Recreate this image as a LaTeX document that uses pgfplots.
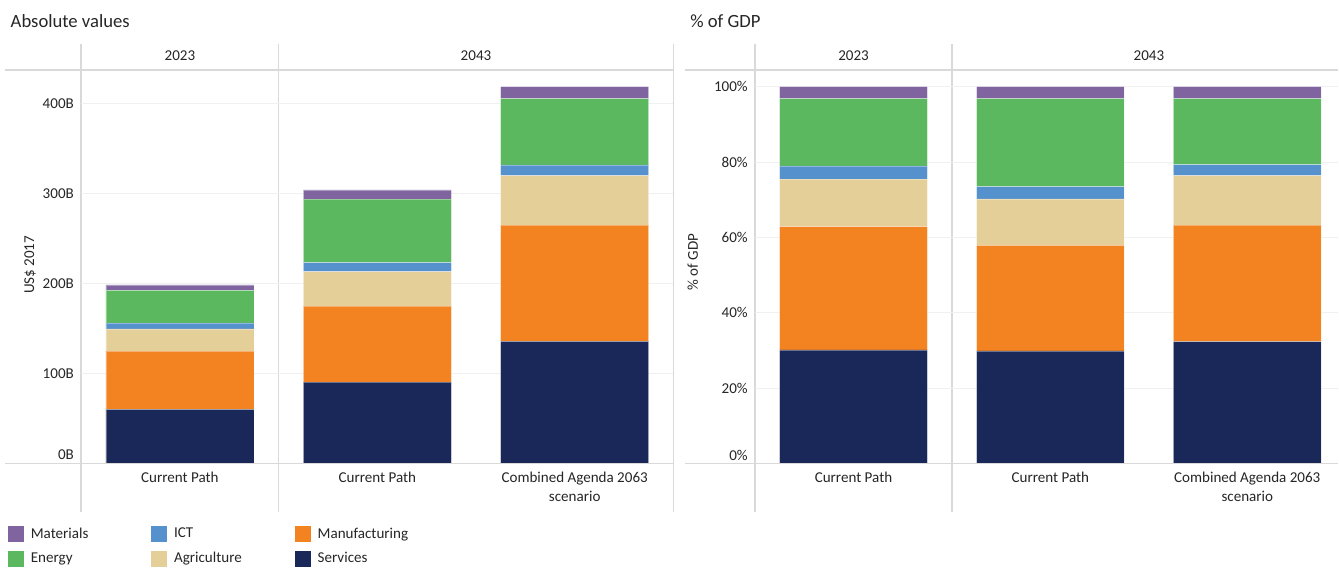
\documentclass[border=0pt]{standalone}
\usepackage{pgfplots}
\pgfplotsset{compat=1.18}
\usepackage{pgfplotstable}
\usepackage{fontspec}
\setmainfont{Carlito}
\definecolor{cMat}{HTML}{7F64A0}
\definecolor{cEne}{HTML}{5CB85F}
\definecolor{cICT}{HTML}{5591CC}
\definecolor{cAgr}{HTML}{E5CF99}
\definecolor{cMan}{HTML}{F38321}
\definecolor{cSer}{HTML}{1A2859}
\definecolor{txt}{HTML}{262626}
\definecolor{sep}{HTML}{D9D9D9}
\definecolor{gridc}{HTML}{F0F0F0}

\pgfplotstableread{
x Services Manufacturing Agriculture ICT Energy Materials
0 60.3 64.9 24.8 6.7 35.9 6.3
1 90.8 84.4 38.5 10.0 70.4 10.3
2 135.9 129.3 55.1 11.9 73.7 13.3
}\absdata

\pgfplotstableread{
x Services Manufacturing Agriculture ICT Energy Materials
0 30.2 32.7 12.6 3.5 17.8 3.2
1 29.9 28.0 12.3 3.3 23.3 3.2
2 32.4 30.9 13.1 2.9 17.5 3.2
}\pctdata

\newcommand\fnt{\fontsize{11.3}{14.25}\selectfont}

\pgfplotsset{
  panel/.style={
    scale only axis,
    anchor=south west,
    height=297pt,
    ymin=0,
    ybar stacked,
    bar width=0.75,
    axis line style={draw=none},
    tick style={draw=none},
    ymajorgrids,
    grid style={gridc, line width=0.8pt},
    font=\fnt\color{txt},
    ticklabel style={font=\fnt\color{txt}},
    yticklabel style={anchor=east, xshift=-2pt},
    xtick={0,1,2},
    xticklabel style={align=center, anchor=north, yshift=-2.5pt},
    extra y tick style={grid=none, yticklabel style={yshift=6.5pt}},
    ylabel style={rotate=0, anchor=center, font=\fnt\color{txt}},
    every axis plot/.append style={draw=white, draw opacity=0.35, line width=0.4pt},
  },
  legsq/.style={legend image code/.code={\fill[##1, draw=none] (0pt,-6pt) rectangle (12pt,6pt);}},
}

\begin{document}
\begin{tikzpicture}
\path (0,0) rectangle (1004.25pt,424.5pt);

% titles
\node[anchor=west, font=\fontsize{14}{16}\selectfont, text=txt] at (4.5pt,408.75pt) {Absolute values};
\node[anchor=west, font=\fontsize{14}{16}\selectfont, text=txt] at (514.5pt,408.75pt) {\% of GDP};

% separators left panel
\draw[sep, line width=1.1pt] (60.94pt,40.5pt) -- (60.94pt,391.5pt);
\draw[sep, line width=1.1pt] (209.06pt,40.5pt) -- (209.06pt,391.5pt);
\draw[sep, line width=1.1pt] (505.3pt,40.5pt) -- (505.3pt,391.5pt);
\draw[sep, line width=1.1pt] (4pt,372pt) -- (505.3pt,372pt);
% separators right panel
\draw[sep, line width=1.1pt] (566.6pt,40.5pt) -- (566.6pt,391.5pt);
\draw[sep, line width=1.1pt] (714.4pt,40.5pt) -- (714.4pt,391.5pt);
\draw[sep, line width=1.1pt] (513.75pt,372pt) -- (1004.25pt,372pt);

% header texts
\node[font=\fnt, text=txt] at (135pt,382.5pt) {2023};
\node[font=\fnt, text=txt] at (357.2pt,382.5pt) {2043};
\node[font=\fnt, text=txt] at (640.5pt,382.5pt) {2023};
\node[font=\fnt, text=txt] at (862.2pt,382.5pt) {2043};

% LEFT PANEL
\begin{axis}[panel,
  at={(60.94pt,76.5pt)},
  width=444.375pt,
  xmin=-0.5, xmax=2.5,
  ymax=440,
  ytick={100,200,300,400},
  yticklabels={100B,200B,300B,400B},
  extra y ticks={0},
  extra y tick labels={0B},
  xticklabels={Current Path,Current Path,Combined Agenda 2063\\scenario},
  ylabel={US\$ 2017},
  ylabel style={at={(axis description cs:-0.0865,0.5025)}, rotate=0},
  legend style={at={(axis description cs:-0.1305,-0.1491)}, anchor=north west, draw=none, fill=none,
    legend columns=3, font=\fnt\color{txt},
    row sep=6.25pt,
    nodes={inner sep=1.5pt}},
  legend cell align=left,
]
\addplot[fill=cSer, forget plot] table[x=x, y=Services] {\absdata};
\addplot[fill=cMan, forget plot] table[x=x, y=Manufacturing] {\absdata};
\addplot[fill=cAgr, forget plot] table[x=x, y=Agriculture] {\absdata};
\addplot[fill=cICT, forget plot] table[x=x, y=ICT] {\absdata};
\addplot[fill=cEne, forget plot] table[x=x, y=Energy] {\absdata};
\addplot[fill=cMat, forget plot] table[x=x, y=Materials] {\absdata};
\addlegendimage{legsq, fill=cMat}\addlegendentry{\makebox[92.5pt][l]{\hspace{3.5pt}Materials}}
\addlegendimage{legsq, fill=cICT}\addlegendentry{\makebox[92.75pt][l]{\hspace{3.5pt}ICT}}
\addlegendimage{legsq, fill=cMan}\addlegendentry{\makebox[80pt][l]{\hspace{3.5pt}Manufacturing}}
\addlegendimage{legsq, fill=cEne}\addlegendentry{\makebox[92.5pt][l]{\hspace{3.5pt}Energy}}
\addlegendimage{legsq, fill=cAgr}\addlegendentry{\makebox[92.75pt][l]{\hspace{3.5pt}Agriculture}}
\addlegendimage{legsq, fill=cSer}\addlegendentry{\makebox[80pt][l]{\hspace{3.5pt}Services}}
\end{axis}

% RIGHT PANEL
\begin{axis}[panel,
  at={(566.6pt,76.5pt)},
  width=437.625pt,
  xmin=-0.5, xmax=2.462,
  ymax=104.95,
  ytick={20,40,60,80,100},
  yticklabels={20\%,40\%,60\%,80\%,100\%},
  extra y ticks={0},
  extra y tick labels={0\%},
  xticklabels={Current Path,Current Path,Combined Agenda 2063\\scenario},
  ylabel={\% of GDP},
  ylabel style={at={(axis description cs:-0.107,0.51)}, rotate=0},
]
\addplot[fill=cSer] table[x=x, y=Services] {\pctdata};
\addplot[fill=cMan] table[x=x, y=Manufacturing] {\pctdata};
\addplot[fill=cAgr] table[x=x, y=Agriculture] {\pctdata};
\addplot[fill=cICT] table[x=x, y=ICT] {\pctdata};
\addplot[fill=cEne] table[x=x, y=Energy] {\pctdata};
\addplot[fill=cMat] table[x=x, y=Materials] {\pctdata};
\end{axis}

% bottom baselines
\draw[sep, line width=1.1pt] (4pt,76.5pt) -- (505.3pt,76.5pt);
\draw[sep, line width=1.1pt] (513.75pt,76.5pt) -- (1004.25pt,76.5pt);
\end{tikzpicture}
\end{document}
